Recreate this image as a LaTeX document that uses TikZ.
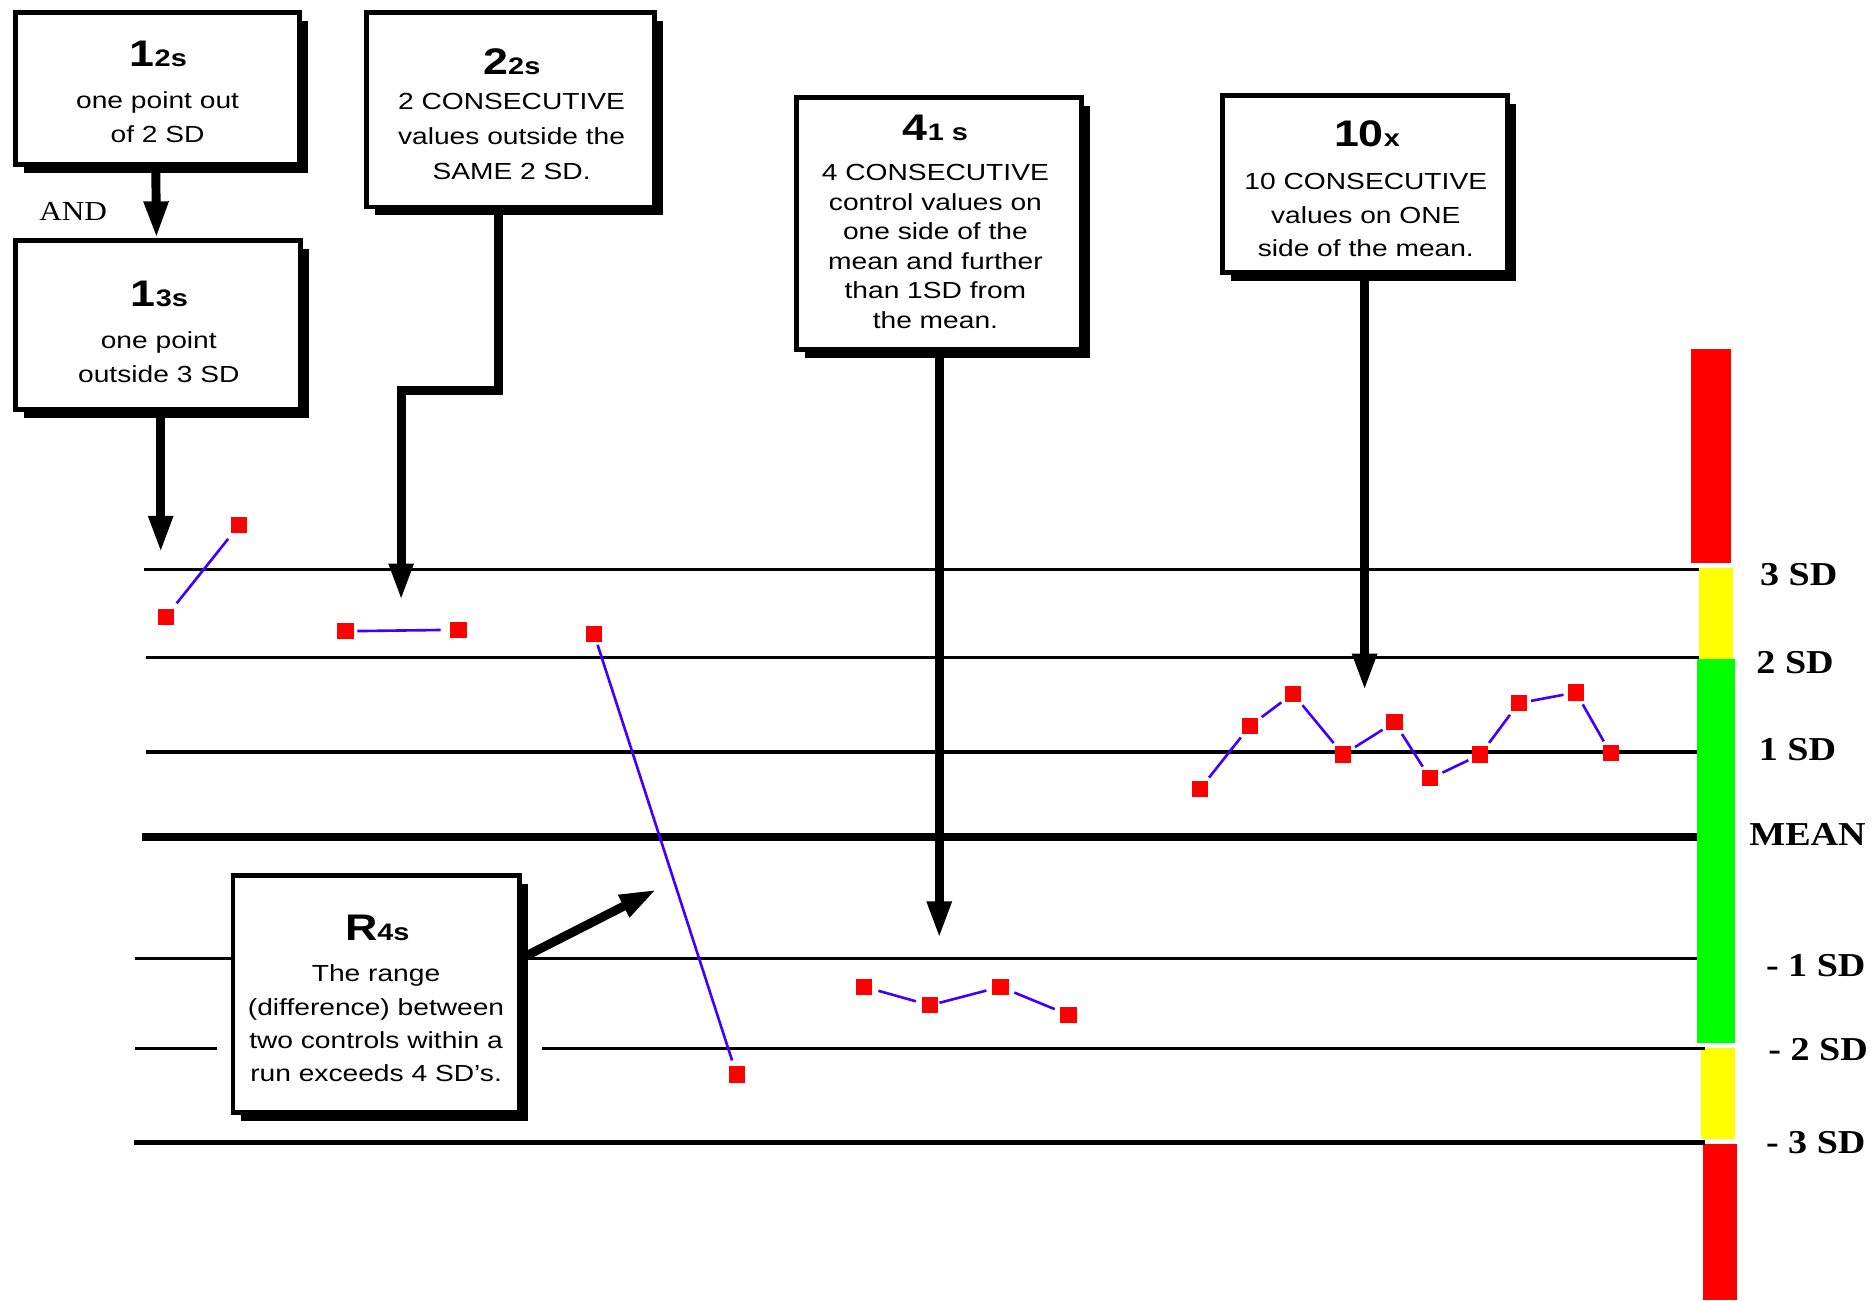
\documentclass[tikz,border=0pt]{standalone}
\usepackage{fontspec}
\setmainfont[FakeStretch=1.21]{Liberation Sans}
\newfontfamily\labelfont[FakeStretch=1.14]{Liberation Serif}
\usetikzlibrary{arrows.meta,shadows}

\definecolor{ptred}{RGB}{255,0,0}
\definecolor{linkblue}{RGB}{64,0,255}
\definecolor{zonered}{RGB}{255,0,0}
\definecolor{zoneyellow}{RGB}{255,255,0}
\definecolor{zonegreen}{RGB}{0,255,0}

% rule name: big bold number with a smaller bold suffix
\newcommand\rulename[2]{{\fontsize{31}{31}\selectfont\bfseries #1}{\fontsize{20}{20}\selectfont\bfseries #2}}

\begin{document}
\begin{tikzpicture}[x=1pt,y=1pt,
  sdline/.style={line width=2.8pt},
  meanline/.style={line width=6.5pt},
  rulebox/.style={draw, line width=4pt, fill=white, inner sep=0pt, rectangle,
    drop shadow={shadow xshift=7pt, shadow yshift=-7pt, opacity=1, fill=black}},
  ruletitle/.style={anchor=base, inner sep=0pt},
  ruletext/.style={anchor=base, inner sep=0pt},
  conn/.style={line width=7.5pt, -{Triangle[length=31pt,width=19pt]}},
  ctrl/.style={rectangle, fill=ptred, minimum size=13.5pt, inner sep=0pt},
  runline/.style={line width=2.2pt, color=linkblue},
  sdlabel/.style={anchor=base west, inner sep=0pt, font=\labelfont\bfseries\fontsize{28}{28}\selectfont},
]
\fill[white] (0,0) rectangle (1568,-1089);
\useasboundingbox (0,0) rectangle (1568,-1089);

% ---- control limit bar ----
\fill[zonered]    (1416.3,-292)   rectangle (1449.8,-471.8);
\fill[zoneyellow] (1423,-475.9)   rectangle (1451.5,-552);
\fill[zonegreen]  (1421.3,-552)   rectangle (1453,-874);
\fill[zoneyellow] (1424.6,-877.6) rectangle (1453,-954.3);
\fill[zonered]    (1426.3,-958.4) rectangle (1454.8,-1089);

% ---- SD lines ----
\draw[sdline] (121,-477) -- (1423,-477);
\draw[sdline, line width=2.3pt] (122.5,-551) -- (1423,-551);
\draw[sdline] (122,-630) -- (1421,-630);
\draw[meanline] (119,-701) -- (1421,-701);
\draw[sdline] (113,-803) -- (1421,-803);
\draw[sdline] (113,-878) -- (182,-878);
\draw[sdline] (453.7,-878) -- (1428,-878);
\draw[sdline, line width=3.5pt] (112,-957) -- (1428,-957);

% ---- SD labels ----
\node[sdlabel] (l3)  at (1474,-490)   {3 SD};
\node[sdlabel] (l2)  at (1471,-564.5) {2 SD};
\node[sdlabel] (l1)  at (1473,-637)   {1 SD};
\node[sdlabel] (lm)  at (1465,-708)   {MEAN};
\node[sdlabel] (lm1) at (1479,-818)   {- 1 SD};
\node[sdlabel] (lm2) at (1481,-888)   {- 2 SD};
\node[sdlabel] (lm3) at (1479,-966)   {- 3 SD};

% ---- rule boxes ----
\node[rulebox, minimum width=238pt, minimum height=127.5pt] (b12) at (132,-74.25) {};
\node[rulebox, minimum width=239pt, minimum height=141.3pt] (b13) at (132.5,-272.3) {};
\node[rulebox, minimum width=241pt, minimum height=163pt]   (b22) at (427.5,-91.9) {};
\node[rulebox, minimum width=238.3pt, minimum height=211pt] (b41) at (786.5,-187) {};
\node[rulebox, minimum width=238.6pt, minimum height=148pt] (b10) at (1143.1,-154.25) {};
\node[rulebox, minimum width=239.7pt, minimum height=198.4pt] (bR) at (315,-832.6) {};

% titles
\node[ruletitle] (t12) at (132.6,-55.8)  {\rulename{1}{2s}};
\node[ruletitle] (t22) at (428.7,-62.8)  {\rulename{2}{2s}};
\node[ruletitle] (t13) at (133.5,-257)   {\rulename{1}{3s}};
\node[ruletitle] (t41) at (783.5,-117.3) {\rulename{4}{1 s}};
\node[ruletitle] (t10) at (1145,-122.8)  {\rulename{10}{x}};
\node[ruletitle] (tR)  at (316,-787.4)   {\rulename{R}{4s}};

% descriptions
\node[ruletext, font=\fontsize{19.5}{28.8}\selectfont] (d12) at (132,-90.7)
  {\begin{tabular}[t]{@{}c@{}}one point out\\of 2 SD\end{tabular}};
\node[ruletext, font=\fontsize{19.5}{29.1}\selectfont] (d22) at (428.5,-92)
  {\begin{tabular}[t]{@{}c@{}}2 CONSECUTIVE\\values outside the\\SAME 2 SD.\end{tabular}};
\node[ruletext, font=\fontsize{19.5}{28.8}\selectfont] (d13) at (133,-291.7)
  {\begin{tabular}[t]{@{}c@{}}one point\\outside 3 SD\end{tabular}};
\node[ruletext, font=\fontsize{19.5}{24.75}\selectfont] (d41) at (783.5,-151.3)
  {\begin{tabular}[t]{@{}c@{}}4 CONSECUTIVE\\control values on\\one side of the\\mean and further\\than 1SD from\\the mean.\end{tabular}};
\node[ruletext, font=\fontsize{19.5}{28.2}\selectfont] (d10) at (1144,-158.6)
  {\begin{tabular}[t]{@{}c@{}}10 CONSECUTIVE\\values on ONE\\side of the mean.\end{tabular}};
\node[ruletext, font=\fontsize{19.5}{28}\selectfont] (dR) at (315,-822.2)
  {\begin{tabular}[t]{@{}c@{}}The range\\(difference) between\\two controls within a\\run exceeds 4 SD's.\end{tabular}};

\node[anchor=base west, inner sep=0pt, font=\labelfont\fontsize{23}{23}\selectfont] (and) at (32.7,-185) {AND};

% ---- connectors ----
\coordinate (tip13) at (134.6,-463);
\coordinate (bend22) at (336,-326.7);
\coordinate (tip22) at (336,-503);
\coordinate (tip41) at (786.7,-786);
\coordinate (tip10) at (1143,-578.5);
\coordinate (tipR) at (550,-745);

\draw[conn] ([xshift=-1.5pt]b12.south) -- ([xshift=-1.5pt]b13.north);
\draw[conn] (b13.south -| tip13) -- (tip13);
\draw[conn] ([xshift=-9.8pt]b22.south) |- (bend22) -- (tip22);
\draw[conn] (b41.south -| tip41) -- (tip41);
\draw[conn] (b10.south -| tip10) -- (tip10);
\draw[conn] ([yshift=30pt]bR.east) -- (tipR);

% ---- control values ----
% 1-3s
\node[ctrl] (a1) at (138.7,-517) {};
\node[ctrl] (a2) at (200.4,-439.7) {};
\draw[runline, shorten <=6pt, shorten >=6pt] (a1) -- (a2);
% 2-2s
\node[ctrl] (c1) at (289.4,-528.7) {};
\node[ctrl] (c2) at (384,-527.5) {};
\draw[runline, shorten <=3pt, shorten >=8pt] (c1) -- (c2);
% R-4s
\node[ctrl] (r1) at (497.7,-531.3) {};
\node[ctrl] (r2) at (617,-900) {};
\draw[runline, shorten <=2pt, shorten >=5pt] (r1) -- (r2);
% 4-1s
\node[ctrl] (f1) at (724,-826.6) {};
\node[ctrl] (f2) at (779,-842) {};
\node[ctrl] (f3) at (838,-826.6) {};
\node[ctrl] (f4) at (895,-850) {};
\draw[runline, shorten <=5pt, shorten >=5pt] (f1) -- (f2);
\draw[runline, shorten <=1pt, shorten >=5pt] (f2) -- (f3);
\draw[runline, shorten <=5pt, shorten >=5pt] (f3) -- (f4);
% 10x
\node[ctrl] (x1)  at (1005,-661) {};
\node[ctrl] (x2)  at (1047,-608) {};
\node[ctrl] (x3)  at (1083,-581) {};
\node[ctrl] (x4)  at (1125,-632) {};
\node[ctrl] (x5)  at (1168,-605) {};
\node[ctrl] (x6)  at (1198,-652) {};
\node[ctrl] (x7)  at (1240,-632) {};
\node[ctrl] (x8)  at (1272,-589) {};
\node[ctrl] (x9)  at (1320,-580) {};
\node[ctrl] (x10) at (1349,-631) {};
\foreach \a/\b in {x1/x2,x2/x3,x3/x4,x4/x5,x5/x6,x6/x7,x7/x8,x8/x9,x9/x10}
  \draw[runline, shorten <=3.5pt, shorten >=3.5pt] (\a) -- (\b);

\end{tikzpicture}
\end{document}
